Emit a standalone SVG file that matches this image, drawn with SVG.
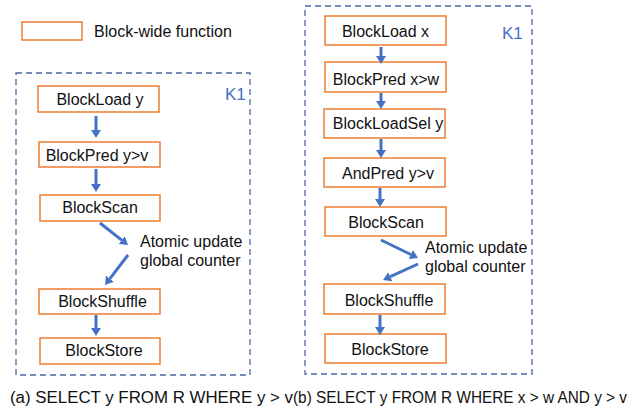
<svg xmlns="http://www.w3.org/2000/svg" width="642" height="410" viewBox="0 0 642 410">
<defs>
<style>
.node{fill:#fff;stroke:#ed7d31;stroke-width:1.5}
.lbl{font-family:"Liberation Sans",Arial,sans-serif;font-size:16px;fill:#111;text-anchor:middle}
.txt{font-family:"Liberation Sans",Arial,sans-serif;font-size:16px;fill:#111}
.k{font-family:"Liberation Sans",Arial,sans-serif;font-size:17px;fill:#4472c4}
.frame{fill:none;stroke:#4a68a5;stroke-width:1.3;stroke-dasharray:6 4}
.arr{stroke:#4472c4;stroke-width:3;fill:none;marker-end:url(#ah)}
</style>
<marker id="ah" viewBox="0 0 8 10" refX="0" refY="5" markerWidth="8" markerHeight="10" markerUnits="userSpaceOnUse" orient="auto">
<path d="M0,0 L8,5 L0,10 z" fill="#4472c4"/>
</marker>
</defs>

<g id="legend">
<rect x="22" y="22" width="60" height="18" class="node"/>
<text x="94" y="37" class="txt">Block-wide function</text>
</g>

<g id="frame-a">
<rect x="16" y="73" width="234" height="302" class="frame"/>
<text x="225" y="100" class="k">K1</text>
</g>
<g id="frame-b">
<rect x="305" y="6" width="227" height="368" class="frame"/>
<text x="502" y="39" class="k">K1</text>
</g>

<g id="a-load"><rect x="38" y="86" width="121" height="26" class="node"/><text x="100" y="105" class="lbl">BlockLoad y</text></g>
<g id="a-pred"><rect x="39" y="142" width="121" height="25" class="node"/><text x="97" y="161" class="lbl">BlockPred y&gt;v</text></g>
<g id="a-scan"><rect x="40" y="195" width="120" height="26" class="node"/><text x="100" y="213" class="lbl">BlockScan</text></g>
<g id="a-atomic"><text x="140" y="247" class="txt">Atomic update</text><text x="140" y="266" class="txt">global counter</text></g>
<g id="a-shuffle"><rect x="39" y="289" width="121" height="25" class="node"/><text x="102.5" y="307" class="lbl">BlockShuffle</text></g>
<g id="a-store"><rect x="40" y="338" width="120" height="26" class="node"/><text x="104" y="356" class="lbl">BlockStore</text></g>

<g id="b-load"><rect x="325" y="16" width="121" height="29" class="node"/><text x="385.5" y="37" class="lbl">BlockLoad x</text></g>
<g id="b-pred"><rect x="325" y="62" width="121" height="30" class="node"/><text x="386" y="85" class="lbl">BlockPred x&gt;w</text></g>
<g id="b-loadsel"><rect x="324" y="109" width="121" height="29" class="node"/><text x="388" y="129" class="lbl">BlockLoadSel y</text></g>
<g id="b-andpred"><rect x="324" y="158" width="121" height="29" class="node"/><text x="388" y="179" class="lbl">AndPred y&gt;v</text></g>
<g id="b-scan"><rect x="325" y="207" width="121" height="29" class="node"/><text x="386" y="228" class="lbl">BlockScan</text></g>
<g id="b-atomic"><text x="425" y="253" class="txt">Atomic update</text><text x="425" y="272" class="txt">global counter</text></g>
<g id="b-shuffle"><rect x="324" y="284" width="121" height="30" class="node"/><text x="389" y="306" class="lbl">BlockShuffle</text></g>
<g id="b-store"><rect x="325" y="334" width="121" height="29" class="node"/><text x="390" y="355" class="lbl">BlockStore</text></g>

<g id="connectors">
<line x1="96" y1="116" x2="96" y2="130" class="arr"/>
<line x1="96" y1="169" x2="96" y2="184" class="arr"/>
<line x1="100" y1="223" x2="121.7" y2="240.1" class="arr"/>
<line x1="128" y1="255" x2="109.9" y2="278.6" class="arr"/>
<line x1="96" y1="315" x2="96" y2="328" class="arr"/>

<line x1="381" y1="47" x2="381" y2="56" class="arr"/>
<line x1="381" y1="93" x2="381" y2="101" class="arr"/>
<line x1="381" y1="139" x2="381" y2="150" class="arr"/>
<line x1="380" y1="188" x2="380" y2="199" class="arr"/>
<line x1="381" y1="240" x2="410.8" y2="254.5" class="arr"/>
<line x1="418" y1="264" x2="390.3" y2="276.7" class="arr"/>
<line x1="380" y1="315" x2="380" y2="327" class="arr"/>
</g>

<g id="captions">
<text x="10" y="403" class="txt" textLength="283" lengthAdjust="spacingAndGlyphs">(a) SELECT y FROM R WHERE y &gt; v</text>
<text x="293" y="403" class="txt" textLength="334" lengthAdjust="spacingAndGlyphs">(b) SELECT y FROM R WHERE x &gt; w AND y &gt; v</text>
</g>
</svg>
